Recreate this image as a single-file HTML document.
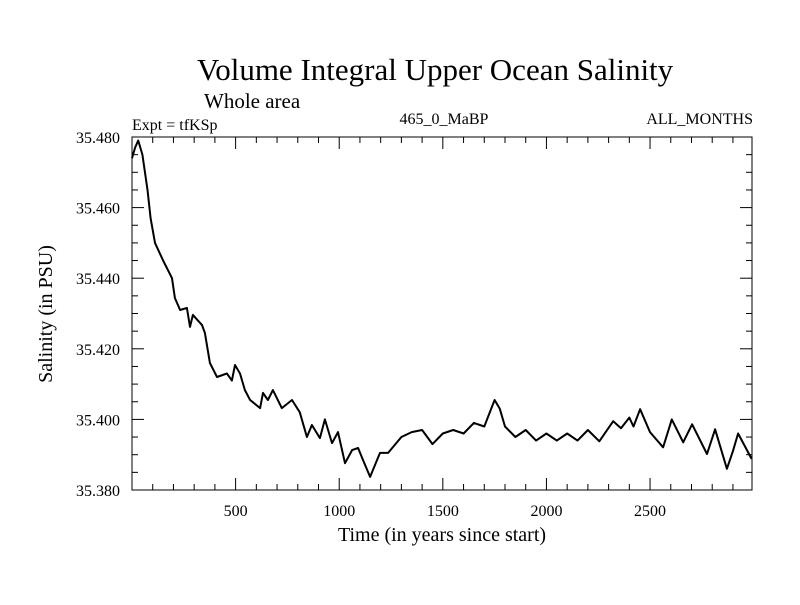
<!DOCTYPE html>
<html><head><meta charset="utf-8"><style>
body{margin:0;background:#fff}
svg text{font-family:"Liberation Serif",serif;fill:#000}
</style></head><body>
<svg width="800" height="600">
<text x="435" y="80" font-size="31" text-anchor="middle">Volume Integral Upper Ocean Salinity</text>
<text x="204" y="108" font-size="21">Whole area</text>
<text x="132" y="130" font-size="16">Expt = tfKSp</text>
<text x="444" y="124" font-size="16" text-anchor="middle">465_0_MaBP</text>
<text x="753" y="124" font-size="16" text-anchor="end">ALL_MONTHS</text>
<text x="442" y="541" font-size="20" text-anchor="middle">Time (in years since start)</text>
<text transform="translate(52,314) rotate(-90)" font-size="20" text-anchor="middle">Salinity (in PSU)</text>
<g id="axes"></g>
<path id="line" fill="none" stroke="#000" stroke-width="2" stroke-linejoin="round"/>
<rect x="132" y="137" width="620" height="353" fill="none" stroke="#000" stroke-width="1"/>
</svg>
<script>
const years=[0,15,30,50,75,90,111,150,193,207,232,265,280,294,338,352,376,410,458,482,497,521,545,570,618,632,656,680,723,772,810,844,868,907,931,965,994,1028,1062,1091,1115,1149,1197,1236,1300,1350,1400,1450,1500,1550,1600,1650,1700,1750,1775,1800,1850,1900,1950,2000,2050,2100,2150,2200,2255,2322,2360,2400,2420,2452,2500,2563,2605,2660,2703,2775,2814,2871,2900,2925,2990];
const salinity=[35.474,35.477,35.479,35.475,35.465,35.457,35.450,35.445,35.440,35.4344,35.431,35.4316,35.4262,35.4296,35.4267,35.4245,35.416,35.412,35.413,35.411,35.4154,35.413,35.4083,35.4055,35.4032,35.4075,35.4055,35.4083,35.4032,35.4055,35.402,35.395,35.3984,35.3947,35.400,35.3933,35.3964,35.3876,35.3913,35.3919,35.3885,35.3837,35.3905,35.3905,35.395,35.3964,35.397,35.393,35.396,35.397,35.396,35.399,35.398,35.4055,35.403,35.398,35.395,35.397,35.394,35.396,35.394,35.396,35.394,35.397,35.3938,35.3995,35.3975,35.4005,35.398,35.4029,35.3964,35.3921,35.400,35.3935,35.3986,35.3902,35.3972,35.386,35.391,35.396,35.3888];
const xTickLabels=[500,1000,1500,2000,2500];
const yTickLabels=["35.380","35.400","35.420","35.440","35.460","35.480"];
const X0=132,X1=752,Y0=490,Y1=137,XMIN=0,XMAX=2992,YMIN=35.38,YMAX=35.48;
const sx=v=>X0+(v-XMIN)/(XMAX-XMIN)*(X1-X0);
const sy=v=>Y0-(v-YMIN)/(YMAX-YMIN)*(Y0-Y1);
const NS="http://www.w3.org/2000/svg";
const ax=document.getElementById('axes');
function ln(x1,y1,x2,y2,name){const l=document.createElementNS(NS,'line');l.setAttribute('x1',x1);l.setAttribute('y1',y1);l.setAttribute('x2',x2);l.setAttribute('y2',y2);l.setAttribute('stroke','#000');


ax.appendChild(l);}
function tx(x,y,s,anchor,name){const t=document.createElementNS(NS,'text');t.setAttribute('x',x);t.setAttribute('y',y);t.setAttribute('font-size','16');t.setAttribute('text-anchor',anchor);t.textContent=s;


ax.appendChild(t);}
for(let v=100;v<XMAX;v+=100){const x=sx(v);const maj=v%500===0;ln(x,Y0,x,Y0-(maj?12:6),'x-tick');ln(x,Y1,x,Y1+(maj?12:6),'x-tick-top');}
xTickLabels.forEach(v=>tx(sx(v),516,String(v),'middle','x-tick-label'));
for(let i=0;i<=20;i++){const v=YMIN+i*0.005;const y=sy(v);const maj=i%4===0;ln(X0,y,X0+(maj?12:6),y,'y-tick');ln(X1,y,X1-(maj?12:6),y,'y-tick-right');}
yTickLabels.forEach(s=>tx(120,sy(parseFloat(s))+6,s,'end','y-tick-label'));
let d='';years.forEach((v,i)=>{d+=(i?'L':'M')+sx(v).toFixed(1)+','+sy(salinity[i]).toFixed(1);});
document.getElementById('line').setAttribute('d',d);
</script>
</body></html>
